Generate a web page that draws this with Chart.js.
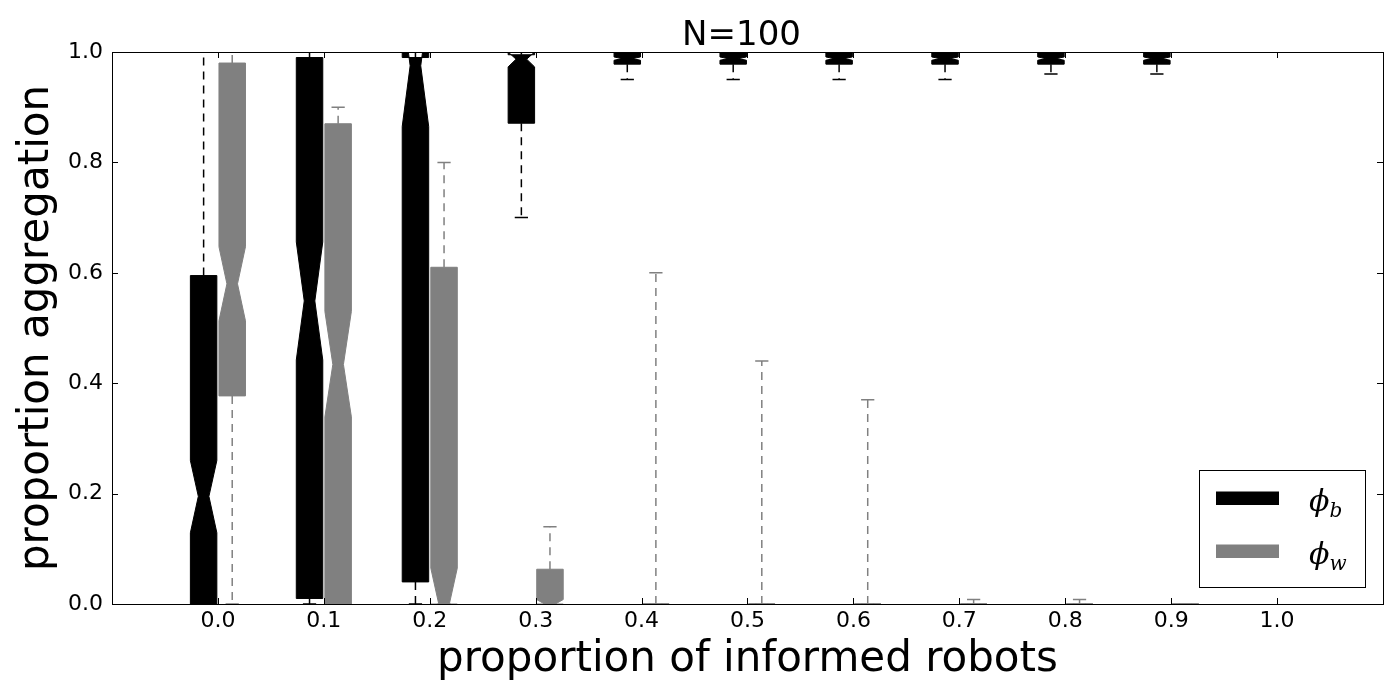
<!DOCTYPE html>
<html lang="en">
<head>
<meta charset="UTF-8">
<title>N=100</title>
<script src="https://cdn.jsdelivr.net/npm/chart.js"></script>
<style>
  html, body { margin: 0; padding: 0; background: #fff; }
  canvas { display: block; }
</style>
</head>
<body>
<canvas id="grafica" width="1400" height="700"></canvas>
<script>
// proportion of informed robots (box positions) and axis ticks
const informed = [0.0, 0.1, 0.2, 0.3, 0.4, 0.5, 0.6, 0.7, 0.8, 0.9];
const xTicks = [0.0, 0.1, 0.2, 0.3, 0.4, 0.5, 0.6, 0.7, 0.8, 0.9, 1.0];
const yTicks = [0.0, 0.2, 0.4, 0.6, 0.8, 1.0];

// phi_b  (black)
const bLow     = [0.00, 0.00, 0.00, 0.70, 0.95, 0.95, 0.95, 0.95, 0.96, 0.96];
const bQ1      = [0.00, 0.01, 0.04, 0.871, 0.978, 0.978, 0.978, 0.978, 0.978, 0.978];
const bMedian  = [0.195, 0.549, 0.975, 0.987, 0.988, 0.988, 0.988, 0.988, 0.988, 0.988];
const bQ3      = [0.595, 0.99, 0.99, 0.995, 1.00, 1.00, 1.00, 1.00, 1.00, 1.00];
const bHigh    = [1.00, 1.00, 1.00, 1.00, 1.00, 1.00, 1.00, 1.00, 1.00, 1.00];
const bNotchLo = [0.129, 0.442, 0.865, 0.973, 0.985, 0.985, 0.985, 0.985, 0.985, 0.985];
const bNotchHi = [0.26, 0.656, 1.085, 1.00, 0.991, 0.991, 0.991, 0.991, 0.991, 0.991];

// phi_w  (grey)
const wLow     = [0.00, 0.00, 0.00, 0.00, 0.00, 0.00, 0.00, 0.00, 0.00, 0.00];
const wQ1      = [0.377, 0.00, 0.00, 0.00, 0.00, 0.00, 0.00, 0.00, 0.00, 0.00];
const wMedian  = [0.58, 0.434, 0.00, 0.00, 0.00, 0.00, 0.00, 0.00, 0.00, 0.00];
const wQ3      = [0.98, 0.87, 0.61, 0.063, 0.00, 0.00, 0.00, 0.00, 0.00, 0.00];
const wHigh    = [1.00, 0.90, 0.80, 0.14, 0.60, 0.44, 0.37, 0.008, 0.008, 0.00];
const wNotchLo = [0.513, 0.339, -0.065, -0.008, 0.00, 0.00, 0.00, 0.00, 0.00, 0.00];
const wNotchHi = [0.647, 0.53, 0.065, 0.008, 0.00, 0.00, 0.00, 0.00, 0.00, 0.00];

const boxWidth = 0.025;

function makeBoxes(shift, lo, q1, med, q3, hi, nlo, nhi) {
    return informed.map((p, i) => ({
        x: p + shift, y: med[i],
        lo: lo[i], q1: q1[i], q3: q3[i], hi: hi[i], nlo: nlo[i], nhi: nhi[i]
    }));
}

// dibuja las cajas con muesca usando las escalas del grafico
const notchedBoxes = {
    id: 'notchedBoxes',
    afterDatasetsDraw(chart) {
        const {ctx, chartArea: a, scales: {x, y}} = chart;
        ctx.save();
        ctx.beginPath();
        ctx.rect(a.left, a.top, a.right - a.left, a.bottom - a.top);
        ctx.clip();
        chart.data.datasets.forEach(ds => {
            const col = ds.borderColor;
            ds.data.forEach(d => {
                const cx = x.getPixelForValue(d.x);
                const L = x.getPixelForValue(d.x - boxWidth / 2);
                const R = x.getPixelForValue(d.x + boxWidth / 2);
                const inset = (R - L) * 0.3;
                const capL = x.getPixelForValue(d.x - boxWidth / 4);
                const capR = x.getPixelForValue(d.x + boxWidth / 4);
                const py = v => y.getPixelForValue(v);

                // bigotes
                ctx.strokeStyle = col;
                ctx.lineWidth = 1.5;
                ctx.setLineDash([8, 6]);
                ctx.beginPath();
                ctx.moveTo(cx, py(d.q1)); ctx.lineTo(cx, py(d.lo));
                ctx.moveTo(cx, py(d.q3)); ctx.lineTo(cx, py(d.hi));
                ctx.stroke();
                ctx.setLineDash([]);
                ctx.beginPath();
                ctx.moveTo(capL, py(d.lo)); ctx.lineTo(capR, py(d.lo));
                ctx.moveTo(capL, py(d.hi)); ctx.lineTo(capR, py(d.hi));
                ctx.stroke();

                // caja
                ctx.beginPath();
                ctx.moveTo(L, py(d.q1));
                ctx.lineTo(L, py(d.nlo));
                ctx.lineTo(L + inset, py(d.y));
                ctx.lineTo(L, py(d.nhi));
                ctx.lineTo(L, py(d.q3));
                ctx.lineTo(R, py(d.q3));
                ctx.lineTo(R, py(d.nhi));
                ctx.lineTo(R - inset, py(d.y));
                ctx.lineTo(R, py(d.nlo));
                ctx.lineTo(R, py(d.q1));
                ctx.closePath();
                ctx.fillStyle = ds.backgroundColor;
                ctx.fill();
                ctx.lineWidth = 1;
                ctx.stroke();
            });
        });
        ctx.restore();
    }
};

// marco, ticks interiores, titulo y leyenda
const frameAndLegend = {
    id: 'frameAndLegend',
    afterDraw(chart) {
        const {ctx, chartArea: a, scales: {x, y}} = chart;
        ctx.save();
        ctx.strokeStyle = '#000';
        ctx.lineWidth = 1;
        ctx.strokeRect(a.left + 0.5, a.top + 0.5, a.right - a.left, a.bottom - a.top);
        ctx.beginPath();
        xTicks.forEach(v => {
            const px = Math.round(x.getPixelForValue(v)) + 0.5;
            ctx.moveTo(px, a.bottom); ctx.lineTo(px, a.bottom - 6);
            ctx.moveTo(px, a.top); ctx.lineTo(px, a.top + 6);
        });
        yTicks.forEach(v => {
            const py = Math.round(y.getPixelForValue(v)) + 0.5;
            ctx.moveTo(a.left, py); ctx.lineTo(a.left + 6, py);
            ctx.moveTo(a.right, py); ctx.lineTo(a.right - 6, py);
        });
        ctx.stroke();

        // titulo
        ctx.fillStyle = '#000';
        ctx.font = '34px "DejaVu Sans"';
        ctx.textAlign = 'center';
        ctx.textBaseline = 'alphabetic';
        ctx.fillText('N=100', (a.left + a.right) / 2 - 6, a.top - 7);

        // leyenda
        const fx = a.right - 184, fy = a.bottom - 134, fw = 166, fh = 117;
        ctx.fillStyle = '#fff';
        ctx.fillRect(fx, fy, fw, fh);
        ctx.strokeRect(fx + 0.5, fy + 0.5, fw, fh);
        chart.data.datasets.forEach((ds, i) => {
            const top = fy + 21.5 + i * 53;
            ctx.fillStyle = ds.backgroundColor;
            ctx.fillRect(fx + 17, top, 63, 13.5);
            ctx.fillStyle = '#000';
            ctx.textAlign = 'left';
            ctx.font = 'italic 30px "DejaVu Serif"';
            const base = top + 19;
            ctx.fillText('\u03d5', fx + 110, base);
            const w = ctx.measureText('\u03d5').width;
            ctx.font = 'italic 20px "DejaVu Serif"';
            ctx.fillText(ds.sub, fx + 110 + w, base + 6);
        });
        ctx.restore();
    }
};

const ctx = document.getElementById('grafica').getContext('2d');
new Chart(ctx, {
    type: 'scatter',
    data: {
        datasets: [
            {
                label: 'phi_b', sub: 'b',
                data: makeBoxes(-0.0135, bLow, bQ1, bMedian, bQ3, bHigh, bNotchLo, bNotchHi),
                backgroundColor: '#000000', borderColor: '#000000', pointRadius: 0
            },
            {
                label: 'phi_w', sub: 'w',
                data: makeBoxes(0.0135, wLow, wQ1, wMedian, wQ3, wHigh, wNotchLo, wNotchHi),
                backgroundColor: '#808080', borderColor: '#808080', pointRadius: 0
            }
        ]
    },
    options: {
        responsive: false,
        animation: false,
        devicePixelRatio: 1,
        layout: { padding: { top: 52, right: 17, left: 0, bottom: 0 } },
        plugins: { legend: { display: false }, tooltip: { enabled: false }, title: { display: false } },
        scales: {
            x: {
                type: 'linear', min: -0.1, max: 1.1,
                afterBuildTicks: s => { s.ticks = xTicks.map(v => ({ value: v })); },
                afterFit: s => { s.height = 96; },
                grid: { display: false, drawTicks: false },
                border: { display: false },
                ticks: {
                    padding: 4, color: '#000', maxRotation: 0, autoSkip: false,
                    font: { family: 'DejaVu Sans', size: 22 },
                    callback: v => Number(v).toFixed(1)
                },
                title: {
                    display: true, text: 'proportion of informed robots', color: '#000',
                    font: { family: 'DejaVu Sans', size: 42 }, padding: { top: 0, bottom: 15 }
                }
            },
            y: {
                min: 0, max: 1,
                afterBuildTicks: s => { s.ticks = yTicks.map(v => ({ value: v })); },
                afterFit: s => { s.width = 112; },
                grid: { display: false, drawTicks: false },
                border: { display: false },
                ticks: {
                    padding: 9, color: '#000',
                    font: { family: 'DejaVu Sans', size: 22 },
                    callback: v => Number(v).toFixed(1)
                },
                title: {
                    display: true, text: 'proportion aggregation', color: '#000',
                    font: { family: 'DejaVu Sans', size: 42 }, padding: { top: 12, bottom: 0 }
                }
            }
        }
    },
    plugins: [notchedBoxes, frameAndLegend]
});
</script>
</body>
</html>
